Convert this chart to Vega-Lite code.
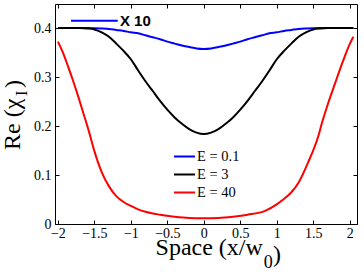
{
  "$schema": "https://vega.github.io/schema/vega-lite/v6.json",
  "width": 302,
  "height": 220,
  "autosize": {"type": "none"},
  "padding": {"left": 55, "top": 4, "right": 7, "bottom": 48},
  "background": "white",
  "config": {
    "view": {"stroke": null},
    "font": "Liberation Serif",
    "axis": {
      "domainColor": "#000000",
      "domainWidth": 1,
      "tickColor": "#000000",
      "tickWidth": 1,
      "tickSize": -4,
      "grid": false,
      "labelFont": "Liberation Serif",
      "labelFontSize": 14,
      "labelColor": "#000000",
      "title": null
    },
    "legend": {
      "labelFont": "Liberation Serif"
    }
  },
  "data": {
    "values": [
      {"x": -2.0, "v": 0.401, "E": "E = 0.1"},
      {"x": -1.6, "v": 0.401, "E": "E = 0.1"},
      {"x": -1.4, "v": 0.400, "E": "E = 0.1"},
      {"x": -1.3, "v": 0.399, "E": "E = 0.1"},
      {"x": -1.2, "v": 0.397, "E": "E = 0.1"},
      {"x": -1.1, "v": 0.395, "E": "E = 0.1"},
      {"x": -1.0, "v": 0.392, "E": "E = 0.1"},
      {"x": -0.9, "v": 0.390, "E": "E = 0.1"},
      {"x": -0.8, "v": 0.386, "E": "E = 0.1"},
      {"x": -0.7, "v": 0.382, "E": "E = 0.1"},
      {"x": -0.6, "v": 0.378, "E": "E = 0.1"},
      {"x": -0.5, "v": 0.373, "E": "E = 0.1"},
      {"x": -0.4, "v": 0.369, "E": "E = 0.1"},
      {"x": -0.3, "v": 0.365, "E": "E = 0.1"},
      {"x": -0.2, "v": 0.362, "E": "E = 0.1"},
      {"x": -0.1, "v": 0.359, "E": "E = 0.1"},
      {"x": 0.0, "v": 0.358, "E": "E = 0.1"},
      {"x": 0.1, "v": 0.359, "E": "E = 0.1"},
      {"x": 0.2, "v": 0.362, "E": "E = 0.1"},
      {"x": 0.3, "v": 0.365, "E": "E = 0.1"},
      {"x": 0.4, "v": 0.369, "E": "E = 0.1"},
      {"x": 0.5, "v": 0.373, "E": "E = 0.1"},
      {"x": 0.6, "v": 0.378, "E": "E = 0.1"},
      {"x": 0.7, "v": 0.382, "E": "E = 0.1"},
      {"x": 0.8, "v": 0.386, "E": "E = 0.1"},
      {"x": 0.9, "v": 0.390, "E": "E = 0.1"},
      {"x": 1.0, "v": 0.392, "E": "E = 0.1"},
      {"x": 1.1, "v": 0.395, "E": "E = 0.1"},
      {"x": 1.2, "v": 0.397, "E": "E = 0.1"},
      {"x": 1.3, "v": 0.399, "E": "E = 0.1"},
      {"x": 1.4, "v": 0.400, "E": "E = 0.1"},
      {"x": 1.6, "v": 0.401, "E": "E = 0.1"},
      {"x": 2.05, "v": 0.401, "E": "E = 0.1"},

      {"x": -2.0, "v": 0.401, "E": "E = 3"},
      {"x": -1.7, "v": 0.401, "E": "E = 3"},
      {"x": -1.6, "v": 0.400, "E": "E = 3"},
      {"x": -1.5, "v": 0.398, "E": "E = 3"},
      {"x": -1.4, "v": 0.392, "E": "E = 3"},
      {"x": -1.3, "v": 0.383, "E": "E = 3"},
      {"x": -1.2, "v": 0.369, "E": "E = 3"},
      {"x": -1.1, "v": 0.354, "E": "E = 3"},
      {"x": -1.0, "v": 0.337, "E": "E = 3"},
      {"x": -0.9, "v": 0.314, "E": "E = 3"},
      {"x": -0.8, "v": 0.292, "E": "E = 3"},
      {"x": -0.7, "v": 0.272, "E": "E = 3"},
      {"x": -0.6, "v": 0.252, "E": "E = 3"},
      {"x": -0.5, "v": 0.234, "E": "E = 3"},
      {"x": -0.4, "v": 0.218, "E": "E = 3"},
      {"x": -0.3, "v": 0.205, "E": "E = 3"},
      {"x": -0.2, "v": 0.194, "E": "E = 3"},
      {"x": -0.1, "v": 0.187, "E": "E = 3"},
      {"x": 0.0, "v": 0.184, "E": "E = 3"},
      {"x": 0.1, "v": 0.187, "E": "E = 3"},
      {"x": 0.2, "v": 0.194, "E": "E = 3"},
      {"x": 0.3, "v": 0.205, "E": "E = 3"},
      {"x": 0.4, "v": 0.218, "E": "E = 3"},
      {"x": 0.5, "v": 0.234, "E": "E = 3"},
      {"x": 0.6, "v": 0.252, "E": "E = 3"},
      {"x": 0.7, "v": 0.272, "E": "E = 3"},
      {"x": 0.8, "v": 0.292, "E": "E = 3"},
      {"x": 0.9, "v": 0.314, "E": "E = 3"},
      {"x": 1.0, "v": 0.337, "E": "E = 3"},
      {"x": 1.1, "v": 0.354, "E": "E = 3"},
      {"x": 1.2, "v": 0.369, "E": "E = 3"},
      {"x": 1.3, "v": 0.383, "E": "E = 3"},
      {"x": 1.4, "v": 0.392, "E": "E = 3"},
      {"x": 1.5, "v": 0.398, "E": "E = 3"},
      {"x": 1.6, "v": 0.400, "E": "E = 3"},
      {"x": 1.7, "v": 0.401, "E": "E = 3"},
      {"x": 2.05, "v": 0.401, "E": "E = 3"},

      {"x": -2.0, "v": 0.373, "E": "E = 40"},
      {"x": -1.93, "v": 0.350, "E": "E = 40"},
      {"x": -1.86, "v": 0.322, "E": "E = 40"},
      {"x": -1.79, "v": 0.292, "E": "E = 40"},
      {"x": -1.72, "v": 0.260, "E": "E = 40"},
      {"x": -1.65, "v": 0.226, "E": "E = 40"},
      {"x": -1.58, "v": 0.192, "E": "E = 40"},
      {"x": -1.5, "v": 0.149, "E": "E = 40"},
      {"x": -1.4, "v": 0.106, "E": "E = 40"},
      {"x": -1.3, "v": 0.077, "E": "E = 40"},
      {"x": -1.2, "v": 0.057, "E": "E = 40"},
      {"x": -1.1, "v": 0.045, "E": "E = 40"},
      {"x": -1.0, "v": 0.037, "E": "E = 40"},
      {"x": -0.9, "v": 0.030, "E": "E = 40"},
      {"x": -0.8, "v": 0.025, "E": "E = 40"},
      {"x": -0.6, "v": 0.019, "E": "E = 40"},
      {"x": -0.4, "v": 0.015, "E": "E = 40"},
      {"x": -0.2, "v": 0.0125, "E": "E = 40"},
      {"x": 0.0, "v": 0.012, "E": "E = 40"},
      {"x": 0.2, "v": 0.0125, "E": "E = 40"},
      {"x": 0.4, "v": 0.015, "E": "E = 40"},
      {"x": 0.6, "v": 0.019, "E": "E = 40"},
      {"x": 0.84, "v": 0.027, "E": "E = 40"},
      {"x": 1.0, "v": 0.040, "E": "E = 40"},
      {"x": 1.07, "v": 0.048, "E": "E = 40"},
      {"x": 1.2, "v": 0.065, "E": "E = 40"},
      {"x": 1.3, "v": 0.085, "E": "E = 40"},
      {"x": 1.43, "v": 0.126, "E": "E = 40"},
      {"x": 1.57, "v": 0.180, "E": "E = 40"},
      {"x": 1.62, "v": 0.207, "E": "E = 40"},
      {"x": 1.7, "v": 0.245, "E": "E = 40"},
      {"x": 1.8, "v": 0.288, "E": "E = 40"},
      {"x": 1.9, "v": 0.330, "E": "E = 40"},
      {"x": 2.0, "v": 0.368, "E": "E = 40"},
      {"x": 2.05, "v": 0.383, "E": "E = 40"}
    ]
  },
  "layer": [
    {
      "mark": {"type": "line", "strokeWidth": 2, "interpolate": "monotone"},
      "encoding": {
        "x": {
          "field": "x", "type": "quantitative",
          "scale": {"domain": [-2.04, 2.1], "nice": false, "zero": false},
          "axis": {"orient": "bottom", "values": [-2, -1.5, -1, -0.5, 0, 0.5, 1, 1.5, 2], "format": "~g", "labelPadding": 6, "labelFlush": false, "labelFont": "Liberation Serif"}
        },
        "y": {
          "field": "v", "type": "quantitative",
          "scale": {"domain": [0, 0.45], "nice": false},
          "axis": {"orient": "left", "values": [0, 0.1, 0.2, 0.3, 0.4], "format": "~g", "labelPadding": 8, "labelFlush": false, "labelFont": "Liberation Serif"}
        },
        "color": {
          "field": "E", "type": "nominal",
          "scale": {"domain": ["E = 0.1", "E = 3", "E = 40"], "range": ["#0000ff", "#000000", "#ff0000"]},
          "legend": {
            "orient": "none",
            "legendX": 118,
            "legendY": 141,
            "title": null,
            "padding": 0,
            "symbolType": "stroke",
            "symbolSize": 441,
            "symbolStrokeWidth": 2,
            "labelFont": "Liberation Serif",
            "labelFontSize": 14.5,
            "labelColor": "#000000",
            "labelOffset": 1,
            "rowPadding": 0
          }
        }
      }
    },
    {
      "mark": {"type": "line", "strokeOpacity": 0},
      "encoding": {
        "x": {"field": "x", "type": "quantitative", "axis": {"orient": "top", "values": [-2, -1.5, -1, -0.5, 0, 0.5, 1, 1.5, 2], "labels": false}},
        "y": {"field": "v", "type": "quantitative", "axis": {"orient": "right", "values": [0, 0.1, 0.2, 0.3, 0.4], "labels": false}}
      }
    },
    {
      "data": {"values": [{"label": "X 10"}]},
      "layer": [
        {
          "mark": {"type": "rule", "color": "#0000ff", "strokeWidth": 2},
          "encoding": {"x": {"datum": -1.82, "axis": null}, "x2": {"datum": -1.18}, "y": {"datum": 0.4155, "axis": null}}
        },
        {
          "mark": {"type": "text", "font": "Liberation Sans", "fontWeight": "bold", "fontSize": 15, "align": "left", "baseline": "middle", "color": "#000000"},
          "encoding": {"x": {"datum": -1.15, "axis": null}, "y": {"datum": 0.4155, "axis": null}, "text": {"field": "label"}}
        }
      ]
    },
    {
      "data": {"values": [{"main": "Space (x/w", "sub": "0", "close": ")"}]},
      "layer": [
        {
          "mark": {"type": "text", "font": "Liberation Serif", "fontSize": 24, "align": "right", "baseline": "alphabetic", "color": "#000000"},
          "encoding": {"x": {"datum": 0.809, "axis": null}, "y": {"datum": -0.0636, "axis": null}, "text": {"field": "main"}}
        },
        {
          "mark": {"type": "text", "font": "Liberation Serif", "fontSize": 18, "align": "left", "baseline": "alphabetic", "color": "#000000"},
          "encoding": {"x": {"datum": 0.822, "axis": null}, "y": {"datum": -0.0905, "axis": null}, "text": {"field": "sub"}}
        },
        {
          "mark": {"type": "text", "font": "Liberation Serif", "fontSize": 24, "align": "left", "baseline": "alphabetic", "color": "#000000"},
          "encoding": {"x": {"datum": 0.95, "axis": null}, "y": {"datum": -0.077, "axis": null}, "text": {"field": "close"}}
        }
      ]
    },
    {
      "data": {"values": [{"main": "Re (χ", "sub": "I", "close": ")"}]},
      "layer": [
        {
          "mark": {"type": "text", "font": "Liberation Serif", "fontSize": 24, "angle": 270, "align": "left", "baseline": "alphabetic", "color": "#000000"},
          "encoding": {"x": {"datum": -2.522, "axis": null}, "y": {"datum": 0.1516, "axis": null}, "text": {"field": "main"}}
        },
        {
          "mark": {"type": "text", "font": "Liberation Serif", "fontSize": 16, "angle": 270, "align": "left", "baseline": "alphabetic", "color": "#000000"},
          "encoding": {"x": {"datum": -2.43, "axis": null}, "y": {"datum": 0.262, "axis": null}, "text": {"field": "sub"}}
        },
        {
          "mark": {"type": "text", "font": "Liberation Serif", "fontSize": 24, "angle": 270, "align": "left", "baseline": "alphabetic", "color": "#000000"},
          "encoding": {"x": {"datum": -2.5, "axis": null}, "y": {"datum": 0.278, "axis": null}, "text": {"field": "close"}}
        }
      ]
    }
  ]
}
